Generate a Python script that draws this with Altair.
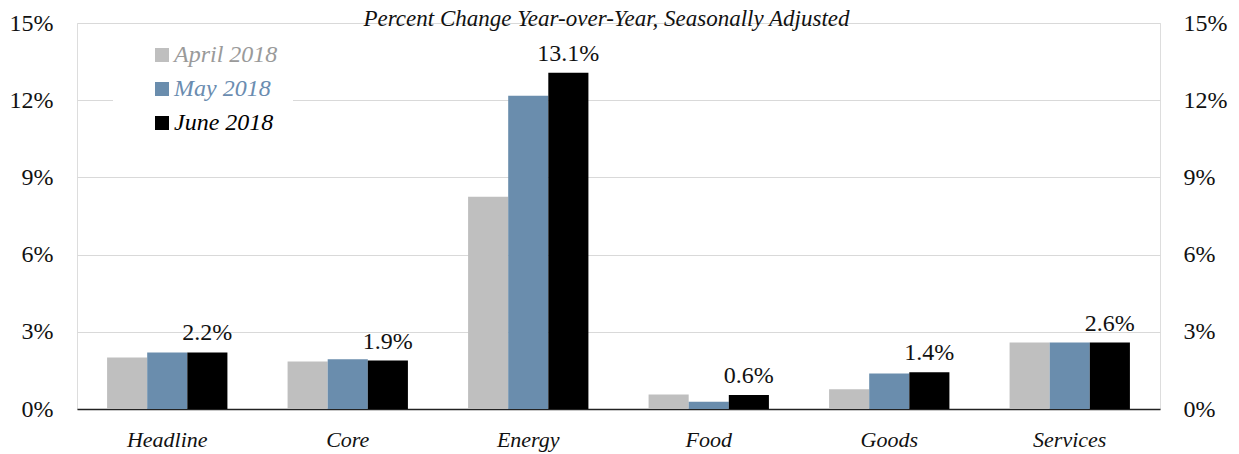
import altair as alt
import pandas as pd

categories = ["Headline", "Core", "Energy", "Food", "Goods", "Services"]
months = ["April 2018", "May 2018", "June 2018"]
april = [2.0, 1.85, 8.25, 0.56, 0.77, 2.58]
may = [2.2, 1.93, 12.17, 0.28, 1.38, 2.58]
june = [2.2, 1.88, 13.07, 0.54, 1.43, 2.58]
june_labels = ["2.2%", "1.9%", "13.1%", "0.6%", "1.4%", "2.6%"]
colors = ["#bfbfbf", "#6a8dad", "#000000"]
legend_text_colors = ["#9a9a9a", "#6a8cb0", "#000000"]
y_ticks = [0, 3, 6, 9, 12, 15]

rows = []
for m, series in zip(months, [april, may, june]):
    for i, (c, v) in enumerate(zip(categories, series)):
        rows.append({"category": c, "month": m, "value": v,
                     "label": june_labels[i] if m == "June 2018" else ""})
df = pd.DataFrame(rows)

FONT = "Liberation Serif, Times New Roman, serif"

label_color_expr = (
    f"datum.label == '{months[0]}' ? '{legend_text_colors[0]}' : "
    f"datum.label == '{months[1]}' ? '{legend_text_colors[1]}' : '{legend_text_colors[2]}'"
)

x_enc = alt.X("category:N", sort=categories, title=None,
              scale=alt.Scale(paddingInner=1/3, paddingOuter=1/6),
              axis=alt.Axis(labelFont=FONT, labelFontStyle="italic", labelFontSize=22,
                            labelColor="#111", labelPadding=20, ticks=False,
                            domainColor="#222", domainWidth=1.6, labelAngle=0))
xo_enc = alt.XOffset("month:N", sort=months,
                     scale=alt.Scale(domain=months, paddingInner=0, paddingOuter=0))
y_scale = alt.Scale(domain=[0, 15], nice=False)

bars = alt.Chart(df).mark_bar().encode(
    x=x_enc,
    xOffset=xo_enc,
    y=alt.Y("value:Q", scale=y_scale, title=None,
            axis=alt.Axis(values=y_ticks, labelExpr="datum.value + '%'", orient="left",
                          labelFont=FONT, labelFontSize=24, labelColor="#111",
                          labelPadding=24, ticks=False, domain=False,
                          grid=True, gridColor="#d9d9d9", gridWidth=1.2)),
    color=alt.Color("month:N", sort=months,
                    scale=alt.Scale(domain=months, range=colors),
                    legend=alt.Legend(title=None, orient="none", legendX=36, legendY=5,
                                      fillColor="white", padding=15, symbolOffset=22,
                                      symbolType="square", symbolSize=196, symbolStrokeWidth=0,
                                      labelFont=FONT, labelFontStyle="italic", labelFontSize=24,
                                      labelOffset=0, rowPadding=10,
                                      labelColor=alt.ExprRef(expr=label_color_expr))),
)

labels = alt.Chart(df).transform_filter("datum.month == 'June 2018'").mark_text(
    font=FONT, fontSize=24, color="#111", baseline="alphabetic", dy=-12
).encode(
    x=alt.X("category:N", sort=categories),
    xOffset=xo_enc,
    y=alt.Y("value:Q", scale=y_scale, title=None,
            axis=alt.Axis(values=y_ticks, labelExpr="datum.value + '%'", orient="right",
                          labelFont=FONT, labelFontSize=24, labelColor="#111",
                          labelPadding=23, ticks=False, domain=False, grid=False)),
    text="label:N",
)

chart = alt.layer(bars, labels).resolve_axis(y="independent").properties(
    width=1083, height=386,
    autosize=alt.AutoSizeParams(type="none"),
    padding={"left": 69, "top": 15, "right": 68, "bottom": 46},
    title=alt.TitleParams("Percent Change Year-over-Year, Seasonally Adjusted",
                          font=FONT, fontStyle="italic", fontWeight="normal", fontSize=23,
                          color="#111", anchor="middle", dx=-12, offset=-38,
                          baseline="alphabetic"),
).configure_view(stroke=None).configure(background="white")

chart.save("out.html", embed_options={"renderer": "svg", "actions": False})
